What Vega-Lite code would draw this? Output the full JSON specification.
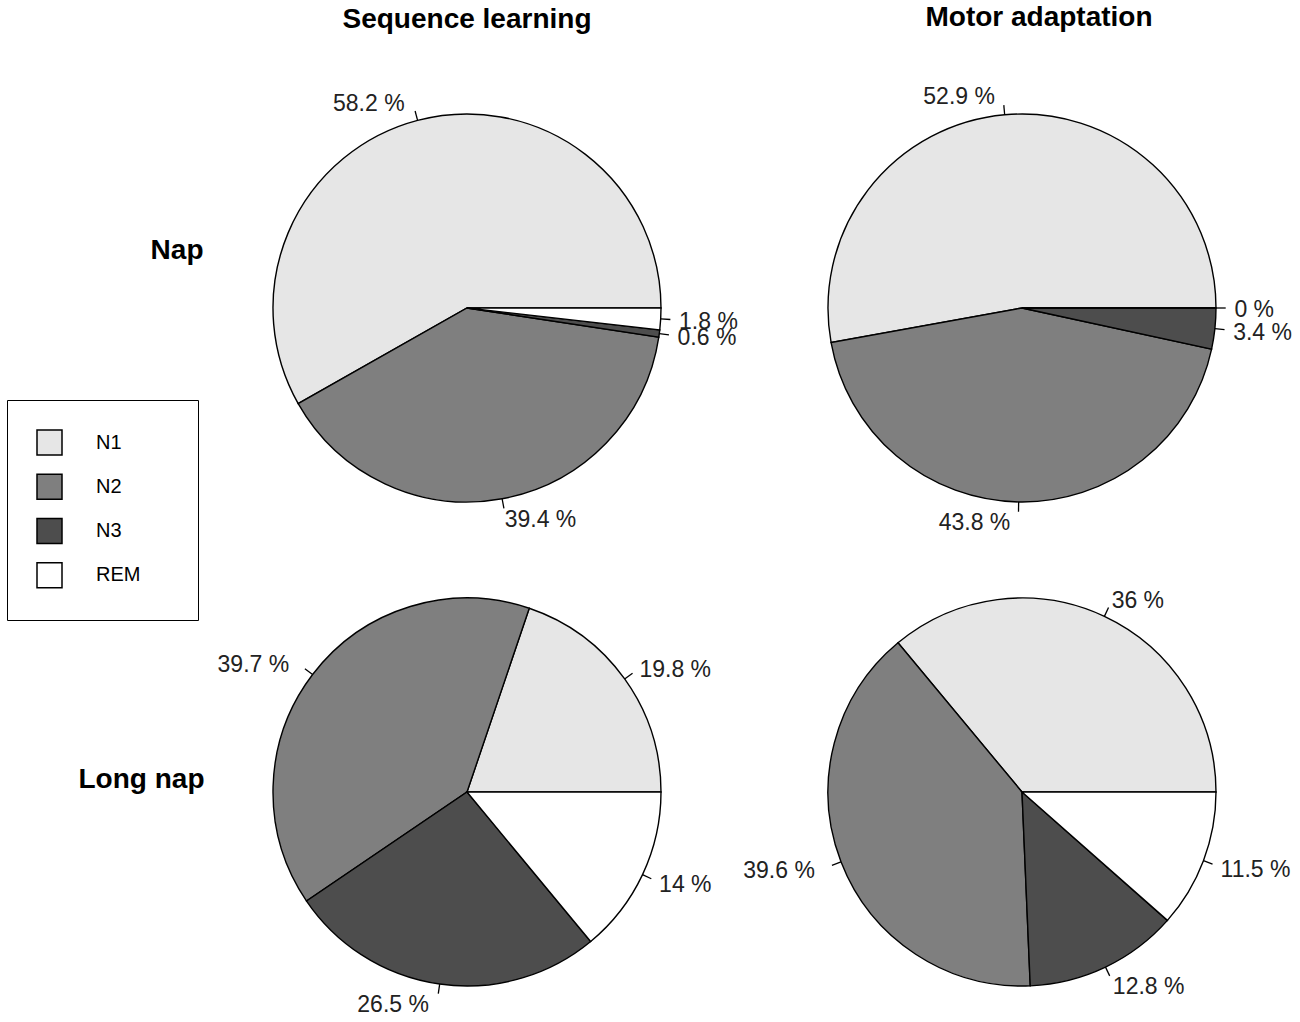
{
  "$schema": "https://vega.github.io/schema/vega-lite/v6.json",
  "background": "white",
  "padding": {"left": 6, "top": 4, "right": 5, "bottom": 5},
  "data": {
    "values": [
      {"study": "Sequence learning", "nap": "Nap", "stage": "N1", "pct": 58.2},
      {"study": "Sequence learning", "nap": "Nap", "stage": "N2", "pct": 39.4},
      {"study": "Sequence learning", "nap": "Nap", "stage": "N3", "pct": 0.6},
      {"study": "Sequence learning", "nap": "Nap", "stage": "REM", "pct": 1.8},
      {"study": "Motor adaptation", "nap": "Nap", "stage": "N1", "pct": 52.9},
      {"study": "Motor adaptation", "nap": "Nap", "stage": "N2", "pct": 43.8},
      {"study": "Motor adaptation", "nap": "Nap", "stage": "N3", "pct": 3.4},
      {"study": "Motor adaptation", "nap": "Nap", "stage": "REM", "pct": 0},
      {"study": "Sequence learning", "nap": "Long nap", "stage": "N1", "pct": 19.8},
      {"study": "Sequence learning", "nap": "Long nap", "stage": "N2", "pct": 39.7},
      {"study": "Sequence learning", "nap": "Long nap", "stage": "N3", "pct": 26.5},
      {"study": "Sequence learning", "nap": "Long nap", "stage": "REM", "pct": 14},
      {"study": "Motor adaptation", "nap": "Long nap", "stage": "N1", "pct": 36},
      {"study": "Motor adaptation", "nap": "Long nap", "stage": "N2", "pct": 39.6},
      {"study": "Motor adaptation", "nap": "Long nap", "stage": "N3", "pct": 12.8},
      {"study": "Motor adaptation", "nap": "Long nap", "stage": "REM", "pct": 11.5}
    ]
  },
  "transform": [
    {"window": [{"op": "sum", "field": "pct", "as": "cum"}], "groupby": ["study", "nap"], "sort": [{"field": "stage"}]},
    {"joinaggregate": [{"op": "sum", "field": "pct", "as": "total"}], "groupby": ["study", "nap"]},
    {"calculate": "datum.cum / datum.total", "as": "t1"},
    {"calculate": "(datum.cum - datum.pct) / datum.total", "as": "t0"},
    {"calculate": "PI * (datum.t0 + datum.t1)", "as": "ang"},
    {"calculate": "cos(datum.ang)", "as": "tx0"},
    {"calculate": "sin(datum.ang)", "as": "ty0"},
    {"calculate": "1.05 * datum.tx0", "as": "tx1"},
    {"calculate": "1.05 * datum.ty0", "as": "ty1"},
    {"calculate": "1.1 * datum.tx0", "as": "lx"},
    {"calculate": "1.1 * datum.ty0", "as": "ly"},
    {"calculate": "datum.pct + ' %'", "as": "label"}
  ],
  "bounds": "flush",
  "columns": 2,
  "spacing": {"row": 44, "column": 55},
  "concat": [
    {
      "width": 500,
      "height": 440,
      "title": {"text": "Sequence learning"},
      "transform": [{"filter": "datum.study === 'Sequence learning' && datum.nap === 'Nap'"}],
      "layer": [
        {
          "mark": {"type": "arc", "outerRadius": 194, "stroke": "black", "strokeWidth": 1.4},
          "encoding": {
            "theta": {"field": "t0", "type": "quantitative", "stack": null, "scale": {"domain": [0, 1], "range": [1.5708, -4.7124]}},
            "theta2": {"field": "t1"},
            "color": {
              "field": "stage", "type": "nominal",
              "scale": {"domain": ["N1", "N2", "N3", "REM"], "range": ["#E6E6E6", "#7F7F7F", "#4D4D4D", "#FFFFFF"]},
              "legend": {"title": null, "orient": "none", "legendX": -210, "legendY": 312, "symbolType": "square", "symbolSize": 625, "symbolStrokeColor": "black", "symbolStrokeWidth": 1.5, "symbolOpacity": 1, "labelFontSize": 20, "labelOffset": 33, "rowPadding": 13.25, "padding": 29, "strokeColor": "black", "fillColor": "white", "labelColor": "black", "labelExpr": "datum.label + '\u00a0\u00a0\u00a0\u00a0\u00a0\u200b'"}
            }
          }
        },
        {
          "mark": {"type": "rule", "color": "black", "strokeWidth": 1.3},
          "encoding": {
            "x": {"field": "tx0", "type": "quantitative", "scale": {"domain": [-1.28866, 1.28866], "nice": false, "zero": false}, "axis": null},
            "y": {"field": "ty0", "type": "quantitative", "scale": {"domain": [-1.134, 1.134], "nice": false, "zero": false},
              "axis": {"title": "Nap", "domain": false, "ticks": false, "labels": false, "grid": false, "titleAngle": 0, "titleAlign": "right", "titleBaseline": "middle", "titleX": -14, "titleY": 162, "titleFontSize": 28, "titleFontWeight": "bold", "titleColor": "black"}},
            "x2": {"field": "tx1"},
            "y2": {"field": "ty1"}
          }
        },
        {
          "mark": {"type": "text", "fontSize": 23, "baseline": "middle", "dy": 2, "color": "#222222", "align": {"expr": "datum.lx < 0 ? 'right' : 'left'"}, "dx": {"expr": "datum.lx < 0 ? -8 : -1"}},
          "encoding": {
            "x": {"field": "lx", "type": "quantitative", "scale": {"domain": [-1.28866, 1.28866], "nice": false, "zero": false}, "axis": null},
            "y": {"field": "ly", "type": "quantitative", "scale": {"domain": [-1.134, 1.134], "nice": false, "zero": false},
              "axis": {"title": "Nap", "domain": false, "ticks": false, "labels": false, "grid": false, "titleAngle": 0, "titleAlign": "right", "titleBaseline": "middle", "titleX": -14, "titleY": 162, "titleFontSize": 28, "titleFontWeight": "bold", "titleColor": "black"}},
            "text": {"field": "label"}
          }
        }
      ]
    },
    {
      "width": 500,
      "height": 440,
      "title": {"text": "Motor adaptation", "dx": 17},
      "transform": [{"filter": "datum.study === 'Motor adaptation' && datum.nap === 'Nap'"}],
      "layer": [
        {
          "mark": {"type": "arc", "outerRadius": 194, "stroke": "black", "strokeWidth": 1.4},
          "encoding": {
            "theta": {"field": "t0", "type": "quantitative", "stack": null, "scale": {"domain": [0, 1], "range": [1.5708, -4.7124]}},
            "theta2": {"field": "t1"},
            "color": {
              "field": "stage", "type": "nominal",
              "scale": {"domain": ["N1", "N2", "N3", "REM"], "range": ["#E6E6E6", "#7F7F7F", "#4D4D4D", "#FFFFFF"]},
              "legend": {"title": null, "orient": "none", "legendX": -210, "legendY": 312, "symbolType": "square", "symbolSize": 625, "symbolStrokeColor": "black", "symbolStrokeWidth": 1.5, "symbolOpacity": 1, "labelFontSize": 20, "labelOffset": 33, "rowPadding": 13.25, "padding": 29, "strokeColor": "black", "fillColor": "white", "labelColor": "black", "labelExpr": "datum.label + '\u00a0\u00a0\u00a0\u00a0\u00a0\u200b'"}
            }
          }
        },
        {
          "mark": {"type": "rule", "color": "black", "strokeWidth": 1.3},
          "encoding": {
            "x": {"field": "tx0", "type": "quantitative", "scale": {"domain": [-1.28866, 1.28866], "nice": false, "zero": false}, "axis": null},
            "y": {"field": "ty0", "type": "quantitative", "scale": {"domain": [-1.134, 1.134], "nice": false, "zero": false}, "axis": null},
            "x2": {"field": "tx1"},
            "y2": {"field": "ty1"}
          }
        },
        {
          "mark": {"type": "text", "fontSize": 23, "baseline": "middle", "dy": 2, "color": "#222222", "align": {"expr": "datum.lx < 0 ? 'right' : 'left'"}, "dx": {"expr": "datum.lx < 0 ? -8 : -1"}},
          "encoding": {
            "x": {"field": "lx", "type": "quantitative", "scale": {"domain": [-1.28866, 1.28866], "nice": false, "zero": false}, "axis": null},
            "y": {"field": "ly", "type": "quantitative", "scale": {"domain": [-1.134, 1.134], "nice": false, "zero": false}, "axis": null},
            "text": {"field": "label"}
          }
        }
      ]
    },
    {
      "width": 500,
      "height": 440,
      "transform": [{"filter": "datum.study === 'Sequence learning' && datum.nap === 'Long nap'"}],
      "layer": [
        {
          "mark": {"type": "arc", "outerRadius": 194, "stroke": "black", "strokeWidth": 1.4},
          "encoding": {
            "theta": {"field": "t0", "type": "quantitative", "stack": null, "scale": {"domain": [0, 1], "range": [1.5708, -4.7124]}},
            "theta2": {"field": "t1"},
            "color": {
              "field": "stage", "type": "nominal",
              "scale": {"domain": ["N1", "N2", "N3", "REM"], "range": ["#E6E6E6", "#7F7F7F", "#4D4D4D", "#FFFFFF"]},
              "legend": {"title": null, "orient": "none", "legendX": -210, "legendY": 312, "symbolType": "square", "symbolSize": 625, "symbolStrokeColor": "black", "symbolStrokeWidth": 1.5, "symbolOpacity": 1, "labelFontSize": 20, "labelOffset": 33, "rowPadding": 13.25, "padding": 29, "strokeColor": "black", "fillColor": "white", "labelColor": "black", "labelExpr": "datum.label + '\u00a0\u00a0\u00a0\u00a0\u00a0\u200b'"}
            }
          }
        },
        {
          "mark": {"type": "rule", "color": "black", "strokeWidth": 1.3},
          "encoding": {
            "x": {"field": "tx0", "type": "quantitative", "scale": {"domain": [-1.28866, 1.28866], "nice": false, "zero": false}, "axis": null},
            "y": {"field": "ty0", "type": "quantitative", "scale": {"domain": [-1.134, 1.134], "nice": false, "zero": false},
              "axis": {"title": "Long nap", "domain": false, "ticks": false, "labels": false, "grid": false, "titleAngle": 0, "titleAlign": "right", "titleBaseline": "middle", "titleX": -13, "titleY": 207, "titleFontSize": 28, "titleFontWeight": "bold", "titleColor": "black"}},
            "x2": {"field": "tx1"},
            "y2": {"field": "ty1"}
          }
        },
        {
          "mark": {"type": "text", "fontSize": 23, "baseline": "middle", "dy": 2, "color": "#222222", "align": {"expr": "datum.lx < 0 ? 'right' : 'left'"}, "dx": {"expr": "datum.lx < 0 ? -8 : -1"}},
          "encoding": {
            "x": {"field": "lx", "type": "quantitative", "scale": {"domain": [-1.28866, 1.28866], "nice": false, "zero": false}, "axis": null},
            "y": {"field": "ly", "type": "quantitative", "scale": {"domain": [-1.134, 1.134], "nice": false, "zero": false},
              "axis": {"title": "Long nap", "domain": false, "ticks": false, "labels": false, "grid": false, "titleAngle": 0, "titleAlign": "right", "titleBaseline": "middle", "titleX": -13, "titleY": 207, "titleFontSize": 28, "titleFontWeight": "bold", "titleColor": "black"}},
            "text": {"field": "label"}
          }
        }
      ]
    },
    {
      "width": 500,
      "height": 440,
      "transform": [{"filter": "datum.study === 'Motor adaptation' && datum.nap === 'Long nap'"}],
      "layer": [
        {
          "mark": {"type": "arc", "outerRadius": 194, "stroke": "black", "strokeWidth": 1.4},
          "encoding": {
            "theta": {"field": "t0", "type": "quantitative", "stack": null, "scale": {"domain": [0, 1], "range": [1.5708, -4.7124]}},
            "theta2": {"field": "t1"},
            "color": {
              "field": "stage", "type": "nominal",
              "scale": {"domain": ["N1", "N2", "N3", "REM"], "range": ["#E6E6E6", "#7F7F7F", "#4D4D4D", "#FFFFFF"]},
              "legend": {"title": null, "orient": "none", "legendX": -210, "legendY": 312, "symbolType": "square", "symbolSize": 625, "symbolStrokeColor": "black", "symbolStrokeWidth": 1.5, "symbolOpacity": 1, "labelFontSize": 20, "labelOffset": 33, "rowPadding": 13.25, "padding": 29, "strokeColor": "black", "fillColor": "white", "labelColor": "black", "labelExpr": "datum.label + '\u00a0\u00a0\u00a0\u00a0\u00a0\u200b'"}
            }
          }
        },
        {
          "mark": {"type": "rule", "color": "black", "strokeWidth": 1.3},
          "encoding": {
            "x": {"field": "tx0", "type": "quantitative", "scale": {"domain": [-1.28866, 1.28866], "nice": false, "zero": false}, "axis": null},
            "y": {"field": "ty0", "type": "quantitative", "scale": {"domain": [-1.134, 1.134], "nice": false, "zero": false}, "axis": null},
            "x2": {"field": "tx1"},
            "y2": {"field": "ty1"}
          }
        },
        {
          "mark": {"type": "text", "fontSize": 23, "baseline": "middle", "dy": 2, "color": "#222222", "align": {"expr": "datum.lx < 0 ? 'right' : 'left'"}, "dx": {"expr": "datum.lx < 0 ? -8 : -1"}},
          "encoding": {
            "x": {"field": "lx", "type": "quantitative", "scale": {"domain": [-1.28866, 1.28866], "nice": false, "zero": false}, "axis": null},
            "y": {"field": "ly", "type": "quantitative", "scale": {"domain": [-1.134, 1.134], "nice": false, "zero": false}, "axis": null},
            "text": {"field": "label"}
          }
        }
      ]
    }
  ],
  "config": {
    "view": {"stroke": null},
    "font": "Liberation Sans",
    "title": {"fontSize": 28, "fontWeight": "bold", "color": "black", "anchor": "middle", "frame": "group", "offset": 54}
  }
}
